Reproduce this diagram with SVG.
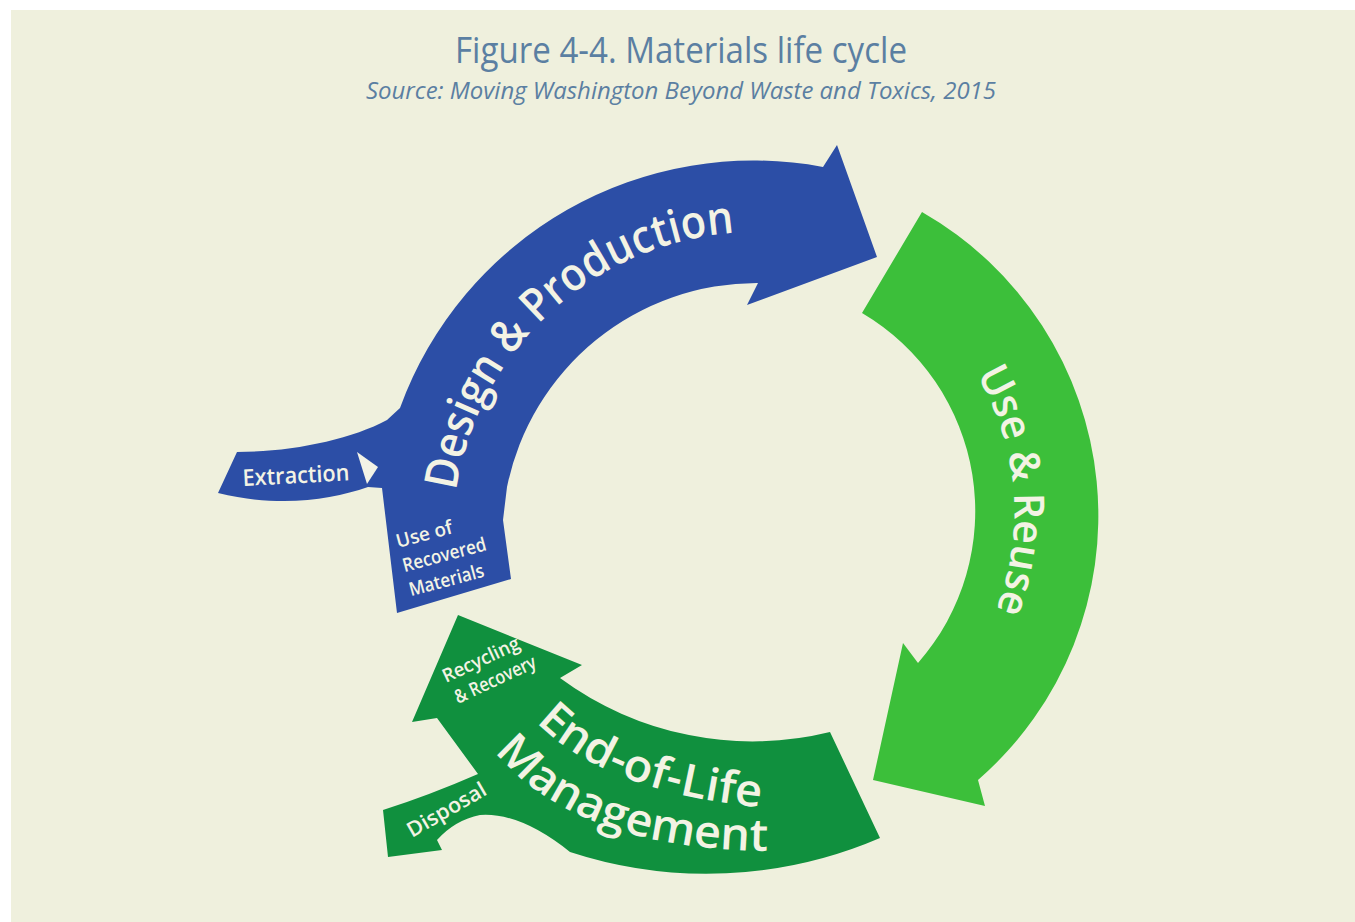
<svg xmlns="http://www.w3.org/2000/svg" xmlns:xlink="http://www.w3.org/1999/xlink" width="1355" height="922" viewBox="0 0 1355 922">
<defs>
<style>
.title{font-family:"Open Sans","Liberation Sans",sans-serif;fill:#5B7FA2}
.lbl{font-family:"Open Sans","Liberation Sans",sans-serif;font-weight:600;fill:#F3F3E4}
.blue{fill:#2C4EA6}
.lgreen{fill:#3CBF3A}
.dgreen{fill:#10903E}
</style>
<path id="pDesign" d="M 453.2,523.4 A 303 303 0 0 1 767.6,232.2"/>
<path id="pUse" d="M 918.6,306.1 A 270 270 0 0 1 949.9,687.2"/>
<path id="pEnd" d="M 538,724 C 585,770 660,797 758,807"/>
<path id="pMan" d="M 496,753 C 550,817 640,849 766,851"/>
</defs>
<rect x="0" y="0" width="1355" height="922" fill="#FFFFFF"/>
<rect x="11" y="10" width="1344" height="912" fill="#EFF0DD"/>
<text class="title" x="681" y="63" font-size="36" text-anchor="middle" textLength="452" lengthAdjust="spacingAndGlyphs">Figure 4-4. Materials life cycle</text>
<text class="title" x="681" y="99" font-size="24" font-style="italic" text-anchor="middle" textLength="630" lengthAdjust="spacingAndGlyphs">Source: Moving Washington Beyond Waste and Toxics, 2015</text>

<g id="design-production">
<path class="blue" d="M 237,452 C 290,452 350,440 387,420 L 400,408 A 376 376 0 0 1 823,167 L 837,145 L 877,257 L 747,305 L 758,283 A 255 255 0 0 0 507,487 L 503,520 L 511,579 L 397,613 L 382,488 L 368,487 C 330,500 280,508 218,493 Z"/>
<polygon points="357,452 378,467 367,484" fill="#F3F3E6"/>
<text class="lbl" font-size="46"><textPath xlink:href="#pDesign" href="#pDesign" startOffset="50%" text-anchor="middle" textLength="410" lengthAdjust="spacingAndGlyphs">Design &amp; Production</textPath></text>
<text class="lbl" font-size="23" transform="translate(243,486) rotate(-3)" textLength="107" lengthAdjust="spacingAndGlyphs">Extraction</text>
<g transform="translate(398,548) rotate(-15)">
<text class="lbl" font-size="19" x="0" y="0">Use of</text>
<text class="lbl" font-size="19" x="0" y="25" textLength="86" lengthAdjust="spacingAndGlyphs">Recovered</text>
<text class="lbl" font-size="19" x="0" y="50" textLength="77" lengthAdjust="spacingAndGlyphs">Materials</text>
</g>
</g>

<g id="use-reuse">
<path class="lgreen" d="M 922,212 A 350 350 0 0 1 978,780 L 985,806 L 873,780 L 903,643 L 918,663 A 230 230 0 0 0 862,313 Z"/>
<text class="lbl" font-size="42"><textPath xlink:href="#pUse" href="#pUse" startOffset="50%" text-anchor="middle" textLength="245" lengthAdjust="spacingAndGlyphs">Use &amp; Reuse</textPath></text>
</g>

<g id="end-of-life">
<path class="dgreen" d="M 458,615 L 582,665 L 560,678 A 324 324 0 0 0 830,732 L 880,838 A 439 439 0 0 1 570,852 Q 520,812 480,815 Q 455,820 437,840 L 442,850 L 388,857 L 383,810 Q 430,795 478,774 L 437,718 L 412,722 Z"/>
<text class="lbl" font-size="45"><textPath xlink:href="#pEnd" href="#pEnd" startOffset="50%" text-anchor="middle" textLength="245" lengthAdjust="spacingAndGlyphs">End-of-Life</textPath></text>
<text class="lbl" font-size="45"><textPath xlink:href="#pMan" href="#pMan" startOffset="50%" text-anchor="middle" textLength="300" lengthAdjust="spacingAndGlyphs">Management</textPath></text>
<g transform="translate(446,683) rotate(-25)">
<text class="lbl" font-size="19" x="0" y="0" textLength="83" lengthAdjust="spacingAndGlyphs">Recycling</text>
<text class="lbl" font-size="19" x="2" y="24" textLength="88" lengthAdjust="spacingAndGlyphs">&amp; Recovery</text>
</g>
<text class="lbl" font-size="21" transform="translate(412,838) rotate(-30)" textLength="88" lengthAdjust="spacingAndGlyphs">Disposal</text>
</g>

<g id="connectors"></g>
</svg>
